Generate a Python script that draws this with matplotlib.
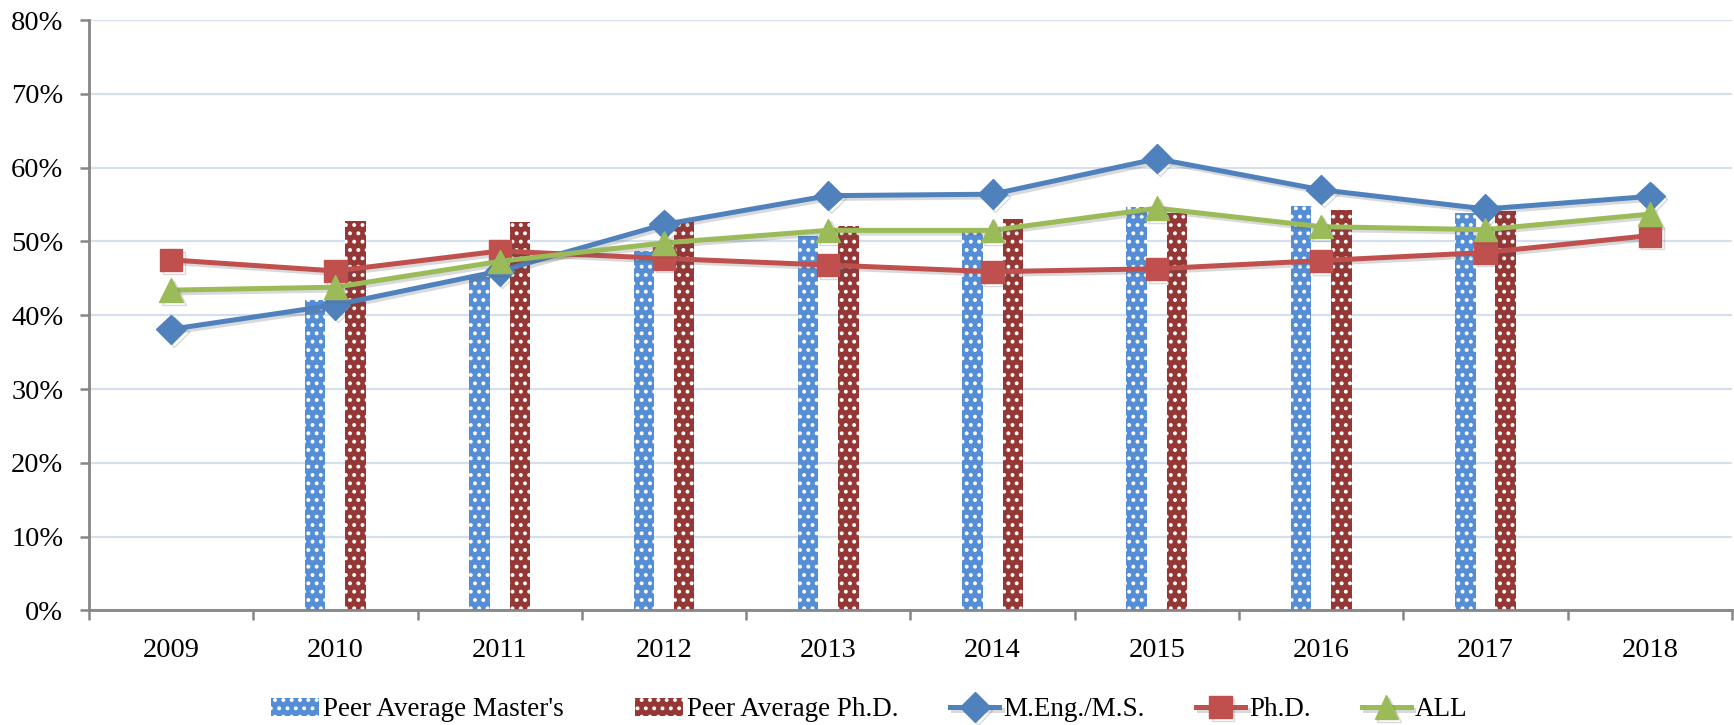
import numpy as np
import matplotlib
matplotlib.use('Agg')
import matplotlib.pyplot as plt
import matplotlib.patheffects as pe
from matplotlib.patches import Rectangle
from matplotlib.ticker import FixedLocator, PercentFormatter

# Datos (en %)
anios = ['2009', '2010', '2011', '2012', '2013', '2014', '2015', '2016', '2017', '2018']
peer_master = [np.nan, 42.0, 45.6, 48.7, 50.8, 51.5, 54.7, 54.8, 53.9, np.nan]
peer_phd = [np.nan, 52.7, 52.6, 52.7, 52.1, 53.0, 53.9, 54.2, 54.1, np.nan]
meng_ms = [38.1, 41.4, 46.0, 52.3, 56.2, 56.4, 61.2, 57.0, 54.4, 56.1]
phd = [47.5, 46.0, 48.7, 47.7, 46.8, 45.9, 46.3, 47.4, 48.5, 50.8]
todos = [43.4, 43.8, 47.3, 49.8, 51.5, 51.5, 54.5, 52.0, 51.6, 53.7]

plt.rcParams['font.family'] = ['Liberation Serif', 'DejaVu Serif']
plt.rcParams['hatch.linewidth'] = 1.6

fig = plt.figure(figsize=(17.34, 7.25), dpi=100)
ax = fig.add_axes([0.0513, 0.158, 0.9475, 0.8144])

x = np.arange(len(anios))
ancho = 0.125

ax.bar(x - 0.123, peer_master, ancho, color='#558ED5', edgecolor='white',
       linewidth=0, hatch='..', zorder=2)
ax.bar(x + 0.123, peer_phd, ancho, color='#953735', edgecolor='white',
       linewidth=0, hatch='..', zorder=2)

sombra = [pe.SimpleLineShadow(offset=(2, -2), alpha=0.22, shadow_color='#555555'), pe.Normal()]
l1, = ax.plot(x, meng_ms, color='#4F81BD', lw=3.6, marker='D', ms=15,
              zorder=3, path_effects=sombra)
l2, = ax.plot(x, phd, color='#C0504D', lw=3.6, marker='s', ms=16,
              zorder=3, path_effects=sombra)
l3, = ax.plot(x, todos, color='#9BBB59', lw=3.6, marker='^', ms=17,
              zorder=4, path_effects=sombra)

ax.set_xlim(-0.5, 9.5)
ax.set_ylim(0, 80)
ax.set_yticks(np.arange(0, 81, 10))
ax.yaxis.set_major_formatter(PercentFormatter(decimals=0))
ax.grid(axis='y', color='#D5DFEE', lw=1.6, zorder=0)
ax.set_axisbelow(True)

# Marcas del eje x entre categorias, etiquetas en el centro
ax.xaxis.set_major_locator(FixedLocator(np.arange(-0.5, 10, 1)))
ax.xaxis.set_minor_locator(FixedLocator(x))
ax.set_xticklabels([''] * 11)
ax.set_xticklabels(anios, minor=True)
ax.tick_params(axis='x', which='major', length=7, width=1.8, color='#868686')
ax.tick_params(axis='x', which='minor', length=0, pad=20, labelsize=20.5)
ax.tick_params(axis='y', length=6.5, width=1.8, color='#868686', labelsize=20.5, pad=12)

for lado in ['top', 'right']:
    ax.spines[lado].set_visible(False)
for lado in ['left', 'bottom']:
    ax.spines[lado].set_color('#868686')
    ax.spines[lado].set_linewidth(2)

# Leyenda: el primer elemento va aparte porque deja mas espacio
p1 = Rectangle((0, 0), 1, 1, facecolor='#558ED5', edgecolor='white', linewidth=0, hatch='..')
p2 = Rectangle((0, 0), 1, 1, facecolor='#953735', edgecolor='white', linewidth=0, hatch='..')
opciones = dict(loc='center left', frameon=False, fontsize=19.5, handlelength=1.8,
                handletextpad=0.15, columnspacing=1.9, borderpad=0, borderaxespad=0)
leg1 = fig.legend([p1], ["Peer Average Master's"], bbox_to_anchor=(0.156, 0.0207), ncol=1, **opciones)
fig.legend([p2, l1, l2, l3], ['Peer Average Ph.D.', 'M.Eng./M.S.', 'Ph.D.', 'ALL'],
           bbox_to_anchor=(0.366, 0.0207), ncol=4, **opciones)

fig.savefig('out.png', dpi=100)
